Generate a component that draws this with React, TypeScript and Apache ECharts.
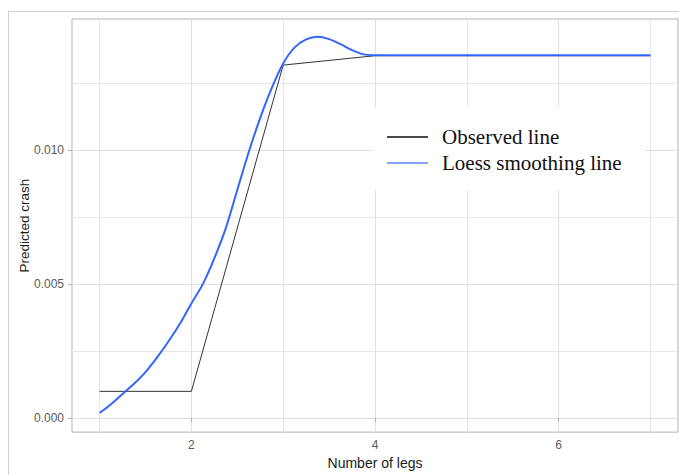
import React, { useEffect, useRef } from "react";
import * as echarts from "echarts";

const observedX = [1, 2, 3, 4, 5, 6, 7];
const observedY = [0.001, 0.001, 0.01317, 0.01352, 0.01352, 0.01352, 0.01352];

const loessX = [1.0, 1.125, 1.25, 1.375, 1.5, 1.625, 1.75, 1.875, 2.0, 2.125, 2.25, 2.375, 2.5, 2.625, 2.75, 2.875, 3.0, 3.125, 3.25, 3.375, 3.5, 3.625, 3.75, 3.875, 4.0, 5.0, 6.0, 7.0];
const loessY = [0.00019, 0.00052, 0.0009, 0.00128, 0.00172, 0.00226, 0.00286, 0.00352, 0.00428, 0.005, 0.00596, 0.00709, 0.00851, 0.00993, 0.0112, 0.01231, 0.01323, 0.01383, 0.01413, 0.01423, 0.01414, 0.01395, 0.01373, 0.01357, 0.01354, 0.01354, 0.01354, 0.01354];

const xTickValues = [2, 4, 6];
const yTickValues = [0, 0.005, 0.01];
const seriesNames = ["Observed line", "Loess smoothing line"];
const xTitle = "Number of legs";
const yTitle = "Predicted crash";

const sans = "Liberation Sans, Arial, sans-serif";

export default function App() {
  const ref = useRef<HTMLDivElement>(null);
  useEffect(() => {
    if (!ref.current) return;
    const chart = echarts.init(ref.current, undefined, { renderer: "svg" });
    const option: any = {
      animation: false,
      backgroundColor: "#ffffff",
      graphic: [
        {
          type: "rect",
          silent: true,
          z: -10,
          shape: { x: 8.5, y: 11.5, width: 720, height: 520 },
          style: { fill: "none", stroke: "#cfcfcf", lineWidth: 1 },
        },
      ],
      grid: {
        left: 72,
        top: 19,
        width: 606,
        height: 415,
        show: true,
        borderColor: "#b3b3b3",
        borderWidth: 1,
        backgroundColor: "transparent",
        containLabel: false,
      },
      legend: {
        orient: "vertical",
        left: 373,
        top: 107,
        padding: [19, 23, 16, 14],
        itemGap: 4,
        itemWidth: 41,
        itemHeight: 1.5,
        backgroundColor: "#ffffff",
        selectedMode: false,
        data: [
          { name: seriesNames[0], icon: "rect", itemStyle: { color: "#111111" } },
          { name: seriesNames[1], icon: "rect", itemStyle: { color: "#5a85f5" } },
        ],
        textStyle: {
          fontFamily: "Liberation Serif, Times New Roman, serif",
          fontSize: 21,
          lineHeight: 22,
          color: "#111111",
          padding: [0, 0, 0, 9],
        },
      },
      xAxis: {
        type: "value",
        min: 0.7,
        max: 7.3,
        minInterval: 2,
        maxInterval: 2,
        name: xTitle,
        nameLocation: "middle",
        nameGap: 23,
        nameTextStyle: {
          fontFamily: sans,
          fontSize: 14,
          color: "#1a1a1a",
        },
        axisLine: { show: false },
        axisTick: {
          show: true,
          customValues: xTickValues,
          length: 4,
          lineStyle: { color: "#b3b3b3" },
        },
        axisLabel: {
          customValues: xTickValues,
          fontFamily: sans,
          fontSize: 12,
          color: "#5a5a5a",
          margin: 7,
        },
        splitLine: { show: true, lineStyle: { color: "#e0e0e0", width: 1 } },
        minorTick: { show: false, splitNumber: 2 },
        minorSplitLine: { show: true, lineStyle: { color: "#e6e6e6", width: 1 } },
      },
      yAxis: {
        type: "value",
        min: -0.00052,
        max: 0.01489,
        minInterval: 0.005,
        maxInterval: 0.005,
        name: yTitle,
        nameLocation: "middle",
        nameMoveOverlap: false,
        nameGap: 41,
        nameTextStyle: { fontFamily: sans, fontSize: 13.5, color: "#1a1a1a" },
        axisLine: { show: false },
        axisTick: {
          show: true,
          customValues: yTickValues,
          length: 4,
          lineStyle: { color: "#b3b3b3" },
        },
        axisLabel: {
          customValues: yTickValues,
          fontFamily: sans,
          fontSize: 12,
          color: "#5a5a5a",
          margin: 8,
          formatter: (v: number) => v.toFixed(3),
        },
        splitLine: { show: true, lineStyle: { color: "#e0e0e0", width: 1 } },
        minorTick: { show: false, splitNumber: 2 },
        minorSplitLine: { show: true, lineStyle: { color: "#e6e6e6", width: 1 } },
      },
      series: [
        {
          name: seriesNames[0],
          type: "line",
          symbol: "none",
          data: observedX.map((x, i) => [x, observedY[i]]),
          lineStyle: { color: "#333333", width: 1 },
          itemStyle: { color: "#111111" },
          z: 2,
        },
        {
          name: seriesNames[1],
          type: "line",
          symbol: "none",
          smooth: 0.3,
          data: loessX.map((x, i) => [x, loessY[i]]),
          lineStyle: { color: "#3366ff", width: 2 },
          itemStyle: { color: "#3366ff" },
          z: 3,
        },
      ],
    };
    chart.setOption(option);
    return () => chart.dispose();
  }, []);
  return (
    <div
      ref={ref}
      style={{ position: "fixed", left: 0, top: 0, width: 679, height: 475 }}
    />
  );
}
